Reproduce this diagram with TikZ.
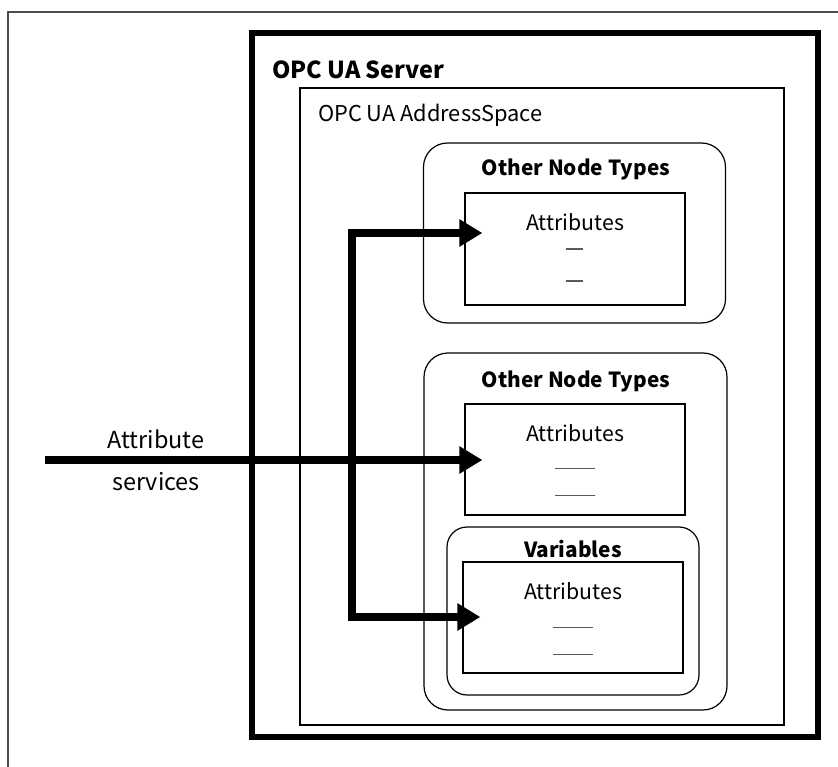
\documentclass[tikz,border=0pt]{standalone}
\usepackage{fontspec}
\setmainfont{Noto Sans CJK SC}
\usetikzlibrary{arrows.meta}
\newcommand{\fsz}[1]{\fontsize{#1}{#1}\selectfont}
\begin{document}
\begin{tikzpicture}[x=1pt,y=-1pt,
  thinbox/.style={draw, line width=1.2pt, rectangle, inner sep=0pt},
  roundbox/.style={thinbox, rounded corners=24pt},
  label/.style={font=\fsz{21.3}, inner sep=0pt},
  boldlabel/.style={inner sep=0pt, font=\fsz{20.8}\bfseries},
  bar/.style={draw, line width=1pt, minimum width=40pt, minimum height=0pt, inner sep=0pt},
  flow/.style={line width=8pt, -{Triangle[length=23pt,width=26pt]}}
]
\useasboundingbox (0,0) rectangle (838,767);

% open page frame
\draw[black!70, line width=1.5pt] (8,767) -- (8,12) -- (838,12);

% server and address space
\node[draw, line width=6pt, minimum width=566pt, minimum height=704pt, inner sep=0pt] (server) at (535,385) {};
\node[inner sep=0pt, font=\fsz{23.4}\bfseries, anchor=west] (servertxt) at (272,70) {OPC UA Server};
\node[thinbox, minimum width=484pt, minimum height=637pt] (space) at (542,406.5) {};
\node[inner sep=0pt, font=\fsz{21.8}, anchor=west] (spacetxt) at (318,115) {OPC UA AddressSpace};

% upper node group
\node[roundbox, minimum width=302pt, minimum height=180pt] (grpA) at (574.5,233) {};
\node[boldlabel] (grpAtxt) at (576,169) {Other Node Types};
\node[thinbox, minimum width=220pt, minimum height=112pt] (attrA) at (575,249) {};
\node[label] (attrAtxt) at (575,222) {Attributes};
\node[label] (dashA1) at (575,252) {—};
\node[label] (dashA2) at (575,284) {—};

% lower node group
\node[roundbox, minimum width=303pt, minimum height=357pt] (grpB) at (575.5,531.5) {};
\node[boldlabel] (grpBtxt) at (576,381) {Other Node Types};
\node[thinbox, minimum width=220pt, minimum height=111pt] (attrB) at (575,459.5) {};
\node[label] (attrBtxt) at (575,433) {Attributes};
\node[bar] (barB1) at (575,468) {};
\node[bar] (barB2) at (575,495) {};

% variables
\node[roundbox, rounded corners=20pt, minimum width=252pt, minimum height=168pt] (vars) at (573,611) {};
\node[boldlabel] (varstxt) at (573,549) {Variables};
\node[thinbox, minimum width=220pt, minimum height=111pt] (attrC) at (573,617.5) {};
\node[label] (attrCtxt) at (573,591) {Attributes};
\node[bar] (barC1) at (573,627) {};
\node[bar] (barC2) at (573,654) {};

% attribute services
\node[inner sep=0pt, font=\fsz{23.4}] (svc1) at (156,439) {Attribute};
\node[inner sep=0pt, font=\fsz{23.4}] (svc2) at (156,482) {services};
\coordinate (src) at (45,460);
\coordinate (jt) at (352,233);
\coordinate (jb) at (352,617);
\draw[flow] (src) -- ([xshift=18pt]attrB.west |- src);
\draw[flow, {Triangle[length=23pt,width=26pt]}-{Triangle[length=23pt,width=26pt]}, line join=miter]
  ([xshift=18pt]attrA.west |- jt) -- (jt) -- (jb) -- ([xshift=18pt]attrC.west |- jb);
\end{tikzpicture}
\end{document}
